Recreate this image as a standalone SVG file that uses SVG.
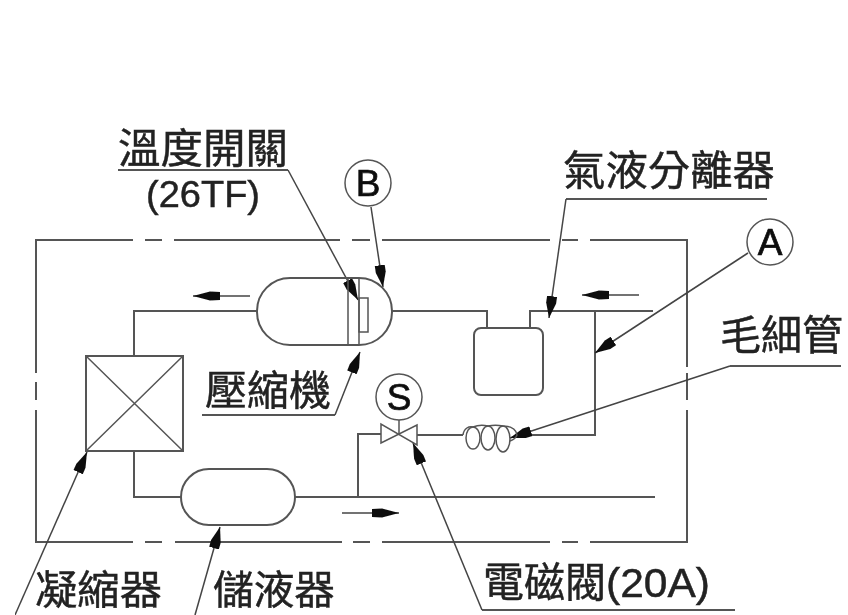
<svg xmlns="http://www.w3.org/2000/svg" width="848" height="615" viewBox="0 0 848 615">
<style>
text{font-family:"Noto Sans CJK TC","Liberation Sans",sans-serif;font-size:41px;fill:#222;stroke:#222;stroke-width:.45}
.lat{font-family:"Liberation Sans",Arial,sans-serif}
.c{font-family:"Liberation Sans",Arial,sans-serif;font-size:37px;text-anchor:middle;fill:#111;stroke:#111;stroke-width:.7}
.b{font-size:40px}
.p{fill:none;stroke:#555;stroke-width:2}
.t{fill:none;stroke:#555;stroke-width:1.5}
.l{fill:none;stroke:#444;stroke-width:1.5;marker-end:url(#h)}
.u{fill:none;stroke:#555;stroke-width:2}
.f{fill:none;stroke:#444;stroke-width:1.5;marker-end:url(#h2)}
</style>
<defs>
<filter id="soft" x="0" y="0" width="100%" height="100%"><feGaussianBlur stdDeviation="0.55"/></filter>
<marker id="h" markerUnits="userSpaceOnUse" markerWidth="24" markerHeight="14" refX="22" refY="6" orient="auto"><path d="M0 1L7 1L22 6L7 11L0 11Z" fill="#111"/></marker>
<marker id="h2" markerUnits="userSpaceOnUse" markerWidth="30" markerHeight="14" refX="27" refY="6" orient="auto"><path d="M0 2L10 1.5L27 6L10 10.5L0 10Z" fill="#111"/></marker>
</defs>
<rect width="848" height="615" fill="#fff"/>
<g filter="url(#soft)">
<g id="frame">
<path class="p" d="M133 240H36V373M36 382V400M36 410V542H133M145 542H162M175 542H342M353 542H370M382 542H550M562 542H578M590 542H687V410M687 400V373M687 367V240H590M578 240H562M550 240H382M370 240H352M340 240H174M162 240H145"/>
</g>
<g id="connectors">
<path class="p" d="M257 311H134V356"/>
<path class="p" d="M134 451V497H181"/>
<path class="p" d="M295 497H655"/>
<path class="p" d="M358 497V434H381"/>
<path class="p" d="M417 435H463"/>
<path class="p" d="M517 435H595V311"/>
<path class="p" d="M392 311H487V328"/>
<path class="p" d="M530 328V311H653"/>
<path class="f" d="M250 296H193"/>
<path class="f" d="M639 295H582"/>
<path class="f" d="M342 513H399"/>
<path class="u" d="M118 170H288"/><path class="l" d="M288 170L358 300"/>
<path class="l" d="M371 207L383 287"/>
<path class="u" d="M202 415H335"/><path class="l" d="M335 415L360 352"/>
<path class="u" d="M767 199H566"/><path class="l" d="M566 199L549 318"/>
<path class="l" d="M748 253L595 353"/>
<path class="u" d="M841 366H730"/><path class="l" d="M730 366L510 438"/>
<path class="u" d="M735 610H482"/><path class="l" d="M482 610L413 443"/>
<path class="l" d="M15 615L87 452"/>
<path class="l" d="M195 615L220 527"/>
</g>
<g id="compressor">
<rect class="p" x="257" y="278" width="135" height="67" rx="33" ry="33"/>
<path class="t" d="M348 278V345M359 278V345"/>
<rect class="t" x="359" y="298" width="9" height="34"/>
</g>
<g id="condenser">
<rect class="p" x="86" y="356" width="97" height="95"/>
<path class="t" d="M86 356L183 451M183 356L86 451"/>
</g>
<g id="receiver"><rect class="p" x="181" y="469" width="114" height="56" rx="28" ry="28"/></g>
<g id="separator"><rect class="p" x="474" y="328" width="69" height="67" rx="7" ry="7"/></g>
<g id="valve">
<path class="t" d="M381 424V443L417 425V445Z"/>
<path class="t" d="M399 420V434"/>
</g>
<g id="capillary">
<ellipse class="t" cx="473" cy="438" rx="7" ry="11"/>
<ellipse class="t" cx="488" cy="438" rx="7" ry="12"/>
<ellipse class="t" cx="503" cy="439" rx="7" ry="13"/>
<path class="t" d="M463 435C464 428 469 426 473 427M473 427C478 425 483 425 488 426M488 426C493 425 498 425 503 426C510 426 516 428 517 435C516 438 513 440 510 441"/>
</g>
<g id="circle-s"><circle cx="399" cy="397" r="23" fill="#fff" stroke="#555" stroke-width="1.5"/><text class="c" x="399" y="410">S</text></g>
<g id="circle-b"><circle cx="368" cy="183" r="23" fill="#fff" stroke="#555" stroke-width="1.5"/><text class="c" x="368" y="196">B</text></g>
<g id="circle-a"><circle cx="770" cy="242" r="23" fill="#fff" stroke="#555" stroke-width="1.5"/><text class="c" x="770" y="255">A</text></g>
<g id="labels">
<text x="118" y="163" textLength="170" lengthAdjust="spacingAndGlyphs">溫度開關</text>
<text class="lat" x="146" y="207" style="font-size:37px" textLength="114" lengthAdjust="spacingAndGlyphs">(26TF)</text>
<text x="205" y="405" textLength="126" lengthAdjust="spacingAndGlyphs">壓縮機</text>
<text x="563" y="185" textLength="212" lengthAdjust="spacingAndGlyphs">氣液分離器</text>
<text x="720" y="350" textLength="123" lengthAdjust="spacingAndGlyphs">毛細管</text>
<text class="b" x="35" y="603.5" textLength="127" lengthAdjust="spacingAndGlyphs">凝縮器</text>
<text class="b" x="213" y="603.5" textLength="122" lengthAdjust="spacingAndGlyphs">儲液器</text>
<text x="483" y="597" textLength="123" lengthAdjust="spacingAndGlyphs">電磁閥</text>
<text class="lat" x="606" y="597" style="font-size:41px" textLength="104" lengthAdjust="spacingAndGlyphs">(20A)</text>
</g>
</g>
</svg>
